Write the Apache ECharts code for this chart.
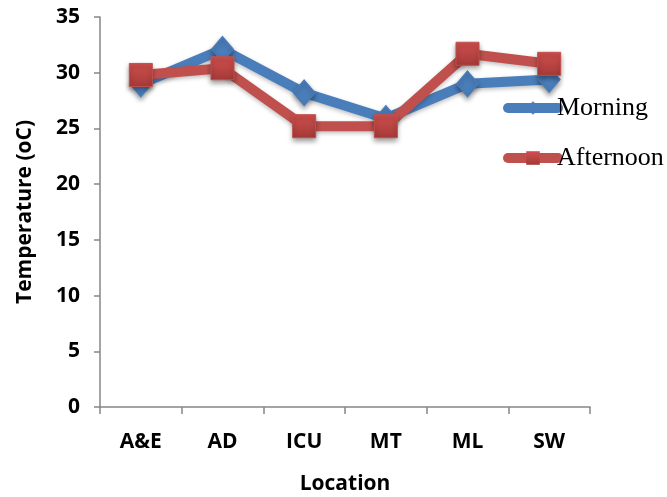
<!DOCTYPE html>
<html>
<head>
<meta charset="utf-8">
<script src="https://cdn.jsdelivr.net/npm/echarts@6/dist/echarts.min.js"></script>
<style>
  html, body { margin: 0; padding: 0; background: #fff; }
  #chart { width: 667px; height: 497px; }
</style>
</head>
<body>
<div id="chart"></div>
<script>
// Temperature by hospital location, morning vs afternoon readings
const locations = ['A&E', 'AD', 'ICU', 'MT', 'ML', 'SW'];
const morning = [29.0, 32.1, 28.2, 25.9, 29.0, 29.4];
const afternoon = [29.8, 30.4, 25.2, 25.2, 31.7, 30.8];
const yTicks = { min: 0, max: 35, interval: 5 };

const blue = '#4a7ebb';
const red = '#c0504d';
const axisGrey = '#868686';
const sansBold = { fontFamily: '"Open Sans", "Liberation Sans", sans-serif', fontWeight: 'bold', color: '#000' };

const chart = echarts.init(document.getElementById('chart'), null, { renderer: 'canvas' });

chart.setOption({
  animation: false,
  backgroundColor: '#fff',
  grid: { left: 100, right: 77, top: 17, bottom: 90, containLabel: false, outerBoundsMode: 'none' },
  legend: {
    orient: 'vertical',
    left: 498,
    top: 90,
    itemWidth: 50,
    itemHeight: 17,
    itemGap: 24,
    lineStyle: { width: 10, cap: 'round' },
    itemStyle: { shadowBlur: 0, shadowOffsetY: 0 },
    textStyle: { fontFamily: '"Liberation Serif", "Times New Roman", serif', fontSize: 26, color: '#000', padding: [0, 0, 0, -6] },
    data: ['Morning', 'Afternoon']
  },
  xAxis: {
    type: 'category',
    data: locations,
    boundaryGap: true,
    name: 'Location',
    nameLocation: 'middle',
    nameGap: 67,
    nameTextStyle: Object.assign({ fontSize: 21 }, sansBold),
    axisLine: { lineStyle: { color: axisGrey, width: 1.5 } },
    axisTick: { show: true, length: 7, lineStyle: { color: axisGrey, width: 1.5 } },
    axisLabel: Object.assign({ fontSize: 21, margin: 25 }, sansBold),
    splitLine: { show: false }
  },
  yAxis: {
    type: 'value',
    min: yTicks.min,
    max: yTicks.max,
    interval: yTicks.interval,
    name: 'Temperature (oC)',
    nameLocation: 'middle',
    nameGap: 64,
    nameTextStyle: Object.assign({ fontSize: 21 }, sansBold),
    axisLine: { show: true, lineStyle: { color: axisGrey, width: 1.5 } },
    axisTick: { show: true, length: 6, lineStyle: { color: axisGrey, width: 1.5 } },
    axisLabel: Object.assign({ fontSize: 21, margin: 20 }, sansBold),
    splitLine: { show: false }
  },
  series: [
    {
      name: 'Morning',
      type: 'line',
      data: morning,
      symbol: 'diamond',
      symbolSize: [22, 26],
      lineStyle: { color: blue, width: 10, shadowColor: 'rgba(0,0,0,0.25)', shadowBlur: 4, shadowOffsetY: 2 },
      itemStyle: { color: blue, borderColor: blue, shadowColor: 'rgba(0,0,0,0.4)', shadowBlur: 5, shadowOffsetY: 3 }
    },
    {
      name: 'Afternoon',
      type: 'line',
      data: afternoon,
      symbol: 'rect',
      symbolSize: 23,
      lineStyle: { color: red, width: 10, shadowColor: 'rgba(0,0,0,0.25)', shadowBlur: 4, shadowOffsetY: 2 },
      itemStyle: {
        color: new echarts.graphic.LinearGradient(0, 0, 0, 1, [
          { offset: 0, color: '#d2504e' },
          { offset: 1, color: '#a33a38' }
        ]),
        borderColor: '#c0504d',
        shadowColor: 'rgba(0,0,0,0.4)', shadowBlur: 5, shadowOffsetY: 3
      }
    }
  ]
});
</script>
</body>
</html>
